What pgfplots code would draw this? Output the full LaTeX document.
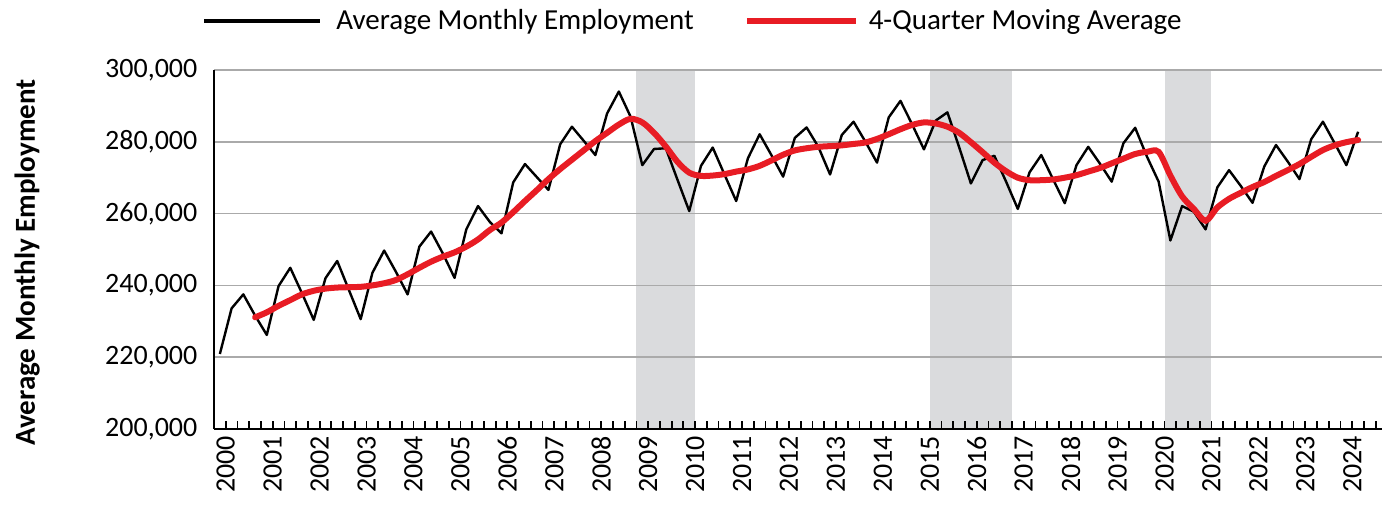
\documentclass[border=0pt]{standalone}
\usepackage{fontspec}
\setmainfont{Carlito}
\usepackage{pgfplots}
\usepackage{pgfplotstable}
\pgfplotsset{compat=1.18}

\definecolor{mavg}{RGB}{232,28,36}
\definecolor{recess}{RGB}{218,219,221}
\definecolor{gridgray}{RGB}{170,170,170}

\pgfplotsset{
    blackleg/.style={legend image code/.code={\fill[black, draw=none] (0pt,-1.2pt) rectangle (58pt,1.2pt); \path[draw=none] (0pt,0pt) -- (64pt,0pt);}},
    redleg/.style={legend image code/.code={\draw[##1] (0pt,0pt) -- (54.5pt,0pt); \path[draw=none] (0pt,0pt) -- (59pt,0pt);}},
}

% quarter index k: 0 = 2000 Q1
\pgfplotstableread{
k emp
0 220900
1 233600
2 237500
3 231600
4 226200
5 239800
6 244900
7 237800
8 230400
9 242000
10 246800
11 238700
12 230600
13 243500
14 249700
15 243800
16 237500
17 250800
18 255000
19 248900
20 242100
21 255600
22 262100
23 257700
24 254500
25 268700
26 273800
27 270200
28 266600
29 279300
30 284200
31 280300
32 276300
33 287900
34 294000
35 287000
36 273500
37 278000
38 278200
39 269400
40 260700
41 273300
42 278400
43 270900
44 263500
45 275400
46 282100
47 276300
48 270300
49 281100
50 284000
51 278600
52 270900
53 281900
54 285600
55 280100
56 274200
57 286800
58 291400
59 284800
60 277900
61 285900
62 288200
63 278500
64 268400
65 274900
66 276100
67 268900
68 261300
69 271500
70 276300
71 269600
72 262900
73 273500
74 278600
75 273900
76 268900
77 279600
78 283900
79 275900
80 268900
81 252500
82 262100
83 260500
84 255600
85 267300
86 272100
87 267700
88 263000
89 273100
90 279100
91 274500
92 269600
93 280700
94 285600
95 279600
96 273500
97 282800
}\emptable

\pgfplotstableread{
k ma
3 231100
4 232500
5 234300
6 235900
7 237500
8 238500
9 239100
10 239400
11 239500
12 239600
13 240000
14 240600
15 241500
16 243100
17 244900
18 246600
19 248000
20 249200
21 250800
22 252800
23 255400
24 257500
25 260400
26 263500
27 266500
28 269600
29 272400
30 275000
31 277600
32 280200
33 282500
34 284800
35 286400
36 285400
37 282500
38 278700
39 274400
40 271400
41 270500
42 270600
43 271000
44 271700
45 272300
46 273300
47 274800
48 276400
49 277600
50 278200
51 278600
52 278800
53 279000
54 279400
55 279800
56 280800
57 282100
58 283500
59 284700
60 285400
61 285100
62 284200
63 282500
64 279900
65 277100
66 274200
67 271800
68 270000
69 269300
70 269300
71 269500
72 270000
73 270700
74 271700
75 272700
76 274000
77 275300
78 276600
79 277200
80 277200
81 270600
82 264800
83 261300
84 258000
85 261700
86 264100
87 265800
88 267400
89 268800
90 270500
91 272100
92 273800
93 275800
94 277700
95 279000
96 279900
97 280500
}\matable

\begin{document}
\begin{tikzpicture}
\begin{axis}[
    set layers,
    scale only axis,
    width=583.8pt, height=179.5pt,
    at={(0,0)}, anchor=south west,
    xmin=-0.5, xmax=99,
    ymin=200000, ymax=300000,
    axis x line*=bottom, axis y line*=left,
    x axis line style={-, black, line width=1.2pt},
    y axis line style={-, black, line width=1.2pt},
    ytick={200000,220000,...,300000},
    scaled y ticks=false,
    yticklabel style={xshift=-4.8pt, /pgf/number format/.cd, fixed, 1000 sep={,}, assume math mode=true},
    y tick style={draw=none},
    ymajorgrids,
    grid style={gridgray, line width=0.8pt},
    xtick={0.5,4.5,...,96.5},
    xticklabels={2000,2001,2002,2003,2004,2005,2006,2007,2008,2009,2010,2011,2012,2013,2014,2015,2016,2017,2018,2019,2020,2021,2022,2023,2024},
    minor xtick={1.5,2.5,...,98.5},
    tick align=inside,
    major tick length=4pt, minor tick length=4pt,
    x tick style={black, line width=0.9pt},
    xticklabel style={rotate=90, anchor=east},
    tick label style={font=\fontsize{14}{16}\selectfont},
    ylabel={Average Monthly Employment},
    ylabel style={at={(axis description cs:-0.16,0.464)}, anchor=center, font=\bfseries\fontsize{14.5}{16}\selectfont},
    legend columns=2,
    legend style={draw=none, fill=none, inner sep=0pt,
        at={(axis description cs:0,1)}, anchor=west, xshift=-5pt, yshift=24.5pt,
        font=\fontsize{14.5}{16}\selectfont,
        /tikz/every even column/.append style={column sep=23pt}},
]
% shaded periods
\addplot[fill=recess, draw=none, on layer=axis background, forget plot]
    coordinates {(35.5,200000) (40.5,200000) (40.5,300000) (35.5,300000)} -- cycle;
\addplot[fill=recess, draw=none, on layer=axis background, forget plot]
    coordinates {(60.5,200000) (67.5,200000) (67.5,300000) (60.5,300000)} -- cycle;
\addplot[fill=recess, draw=none, on layer=axis background, forget plot]
    coordinates {(80.5,200000) (84.5,200000) (84.5,300000) (80.5,300000)} -- cycle;

\addplot[black, line width=1.2pt, line join=round, blackleg]
    table[x=k, y=emp] {\emptable};
\addlegendentry{Average Monthly Employment}
\addplot[mavg, line width=3pt, smooth, tension=0.5, line cap=round, redleg,
    legend image post style={line cap=butt}]
    table[x=k, y=ma] {\matable};
\addlegendentry{4-Quarter Moving Average}
\end{axis}
\pgfresetboundingbox
\path (-107pt,-39.5pt) rectangle (584.5pt,214.5pt);
\end{tikzpicture}
\end{document}
